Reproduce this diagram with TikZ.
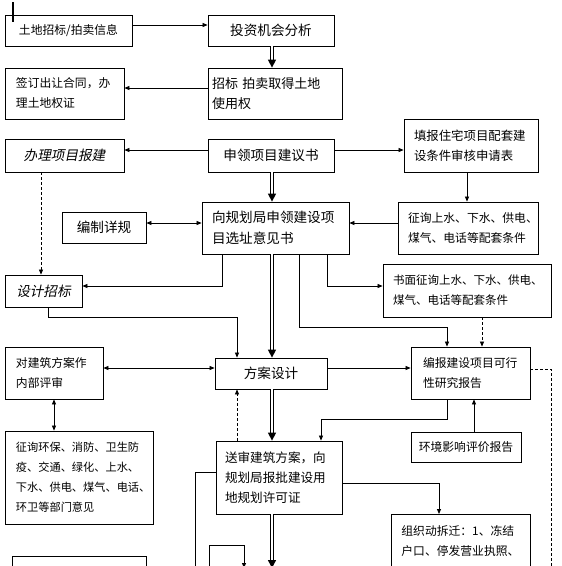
\documentclass[tikz,border=0pt]{standalone}
\usepackage{fontspec}
\setmainfont{Noto Sans CJK SC}
\newfontfamily\cjkit[FakeSlant=0.2]{Noto Sans CJK SC}
\usetikzlibrary{arrows.meta,calc}
\tikzset{
  bx/.style={draw, line width=0.8pt, inner sep=0pt, align=left},
  big/.style={font=\fontsize{13.6}{21}\selectfont},
  sml/.style={font=\fontsize{11.8}{20}\selectfont},
  ln/.style={line width=0.75pt},
  ar/.style={ln, -{Triangle[length=5pt,width=4pt]}},
  arr2/.style={ln, {Triangle[length=5pt,width=4pt]}-{Triangle[length=5pt,width=4pt]}},
  dar/.style={ar, dash pattern=on 3pt off 2pt},
  dbl/.style={line width=1.4pt, double distance=1.5pt, -{Triangle[length=8pt,width=8pt]}}
}
\begin{document}
\begin{tikzpicture}[x=1pt,y=-1pt]
\useasboundingbox (0,0) rectangle (562,566);
\fill[white] (0,0) rectangle (562,566);
\clip (0,0) rectangle (562,566);
% boxes
\node[bx,sml,minimum width=127pt,minimum height=31pt] (A) at (68.5,30.5) {土地招标/拍卖信息};
\node[bx,big,minimum width=126pt,minimum height=31pt] (B) at (271,30.5) {投资机会分析};
\node[bx,sml,minimum width=119pt,minimum height=51pt,text width=97pt] (C) at (64.5,93.5) {签订出让合同，办\\理土地权证};
\node[bx,font=\fontsize{13}{20}\selectfont,minimum width=134pt,minimum height=51pt,text width=126pt] (D) at (275,93.5) {招标 拍卖取得土地\\使用权};
\node[bx,big,minimum width=119pt,minimum height=33pt] (E) at (64.5,155.5) {\cjkit 办理项目报建};
\node[bx,big,minimum width=126pt,minimum height=33pt] (F) at (271,155.5) {申领项目建议书};
\node[bx,font=\fontsize{12.4}{20}\selectfont,minimum width=134pt,minimum height=53pt,text width=114pt] (G) at (471,145.5) {填报住宅项目配套建\\设条件审核申请表};
\node[bx,big,minimum width=147pt,minimum height=52pt,text width=127pt] (H) at (275.5,228) {向规划局申领建设项\\目选址意见书};
\node[bx,big,minimum width=84pt,minimum height=31pt] (I) at (104,227.5) {编制详规};
\node[bx,sml,minimum width=140pt,minimum height=52pt,text width=120pt] (J) at (468,228) {征询上水、下水、供电、\\煤气、电话等配套条件};
\node[bx,big,minimum width=77pt,minimum height=32pt] (K) at (43.5,291) {\cjkit 设计招标};
\node[bx,font=\fontsize{11.5}{20}\selectfont,minimum width=168pt,minimum height=53pt,text width=148pt] (L) at (467,290.5) {书面征询上水、下水、供电、\\煤气、电话等配套条件};
\node[bx,sml,minimum width=98pt,minimum height=52pt,text width=76pt] (M) at (54,373) {对建筑方案作\\内部评审};
\node[bx,big,minimum width=112pt,minimum height=31pt] (N) at (271,373.5) {方案设计};
\node[bx,sml,minimum width=119pt,minimum height=52pt,text width=95pt] (O) at (470.5,373) {编报建设项目可行\\性研究报告};
\node[bx,sml,minimum width=110pt,minimum height=30pt] (P) at (466,447) {环境影响评价报告};
\node[bx,font=\fontsize{11.2}{20}\selectfont,minimum width=148pt,minimum height=93pt,text width=126pt] (Q) at (79,477.5) {征询环保、消防、卫生防\\疫、交通、绿化、上水、\\下水、供电、煤气、电话、\\环卫等部门意见};
\node[bx,font=\fontsize{12.6}{20}\selectfont,minimum width=126pt,minimum height=73pt,text width=108pt] (R) at (279,477.5) {送审建筑方案，向\\规划局报批建设用\\地规划许可证};
\node[bx,sml,anchor=north west,inner ysep=11pt,minimum width=139pt,text width=119pt] (S) at (391,514) {组织动拆迁：1、冻结\\户口、停发营业执照、\\\strut};
\node[bx,anchor=north west,minimum width=134pt,minimum height=30pt] (T) at (12,556) {};
% helper coordinates
\coordinate (cx) at (272,0);
\coordinate (t1) at (13,2); \coordinate (t2) at (13,22);
\coordinate (y1) at (0,25);
\coordinate (y2) at (0,88);
\coordinate (y3) at (0,150);
\coordinate (y4) at (0,223);
\coordinate (y5) at (0,368);
\coordinate (x1) at (41,0);
\coordinate (x2) at (467,0);
\coordinate (x3) at (482,0);
\coordinate (x4) at (54,0);
\coordinate (x5) at (474,0);
\coordinate (x6) at (237,0);
\coordinate (b1) at (222,286);
\coordinate (b2) at (327,286);
\coordinate (b3) at (299,327); \coordinate (b4) at (447,327);
\coordinate (b5) at (48,317); \coordinate (b6) at (237,317);
\coordinate (b7) at (551,369); \coordinate (e1) at (551,580);
\coordinate (b8) at (447,419); \coordinate (b9) at (321,419);
\coordinate (b10) at (439,483);
\coordinate (b11) at (195,472); \coordinate (e2) at (195,580);
\coordinate (e3) at (209,580); \coordinate (b12) at (209,545); \coordinate (b13) at (244,545); \coordinate (e4) at (244,568);
\coordinate (e5) at (272,568);
% connectors
\draw[line width=1.5pt] (t1) -- (t2);
\draw[ar] (A.east|-y1) -- (B.west|-y1);
\draw[dbl] (B.south-|cx) -- (D.north-|cx);
\draw[ar] (D.west|-y2) -- (C.east|-y2);
\draw[ar] (F.west|-y3) -- (E.east|-y3);
\draw[ar] (F.east|-y3) -- (G.west|-y3);
\draw[dbl] (F.south-|cx) -- (H.north-|cx);
\draw[dar] (E.south-|x1) -- (K.north-|x1);
\draw[arr2] (I.east|-y4) -- (H.west|-y4);
\draw[ar] (G.south-|x2) -- (J.north-|x2);
\draw[ar] (J.west|-y4) -- (H.east|-y4);
\draw[ar] (H.south-|b1) -- (b1) -- (K.east|-b1);
\draw[ar] (H.south-|b2) -- (b2) -- (L.west|-b2);
\draw[ar] (H.south-|b3) -- (b3) -- (b4) -- (O.north-|b4);
\draw[dar] (L.south-|x3) -- (O.north-|x3);
\draw[ar] (K.south-|b5) -- (b5) -- (b6) -- (N.north-|b6);
\draw[dbl] (H.south-|cx) -- (N.north-|cx);
\draw[arr2] (M.east|-y5) -- (N.west|-y5);
\draw[ar] (N.east|-y5) -- (O.west|-y5);
\draw[ln,dash pattern=on 3pt off 2pt] (O.east|-b7) -- (b7) -- (e1);
\draw[arr2] (M.south-|x4) -- (Q.north-|x4);
\draw[ar] (P.north-|x5) -- (O.south-|x5);
\draw[ar] (O.south-|b8) -- (b8) -- (b9) -- (R.north-|b9);
\draw[dar] (R.north-|x6) -- (N.south-|x6);
\draw[dbl] (N.south-|cx) -- (R.north-|cx);
\draw[ar] (R.east|-b10) -- (b10) -- (S.north-|b10);
\draw[ln] (R.west|-b11) -- (b11) -- (e2);
\draw[ar] (e3) -- (b12) -- (b13) -- (e4);
\draw[dbl] (R.south-|cx) -- (e5);
\end{tikzpicture}
\end{document}
